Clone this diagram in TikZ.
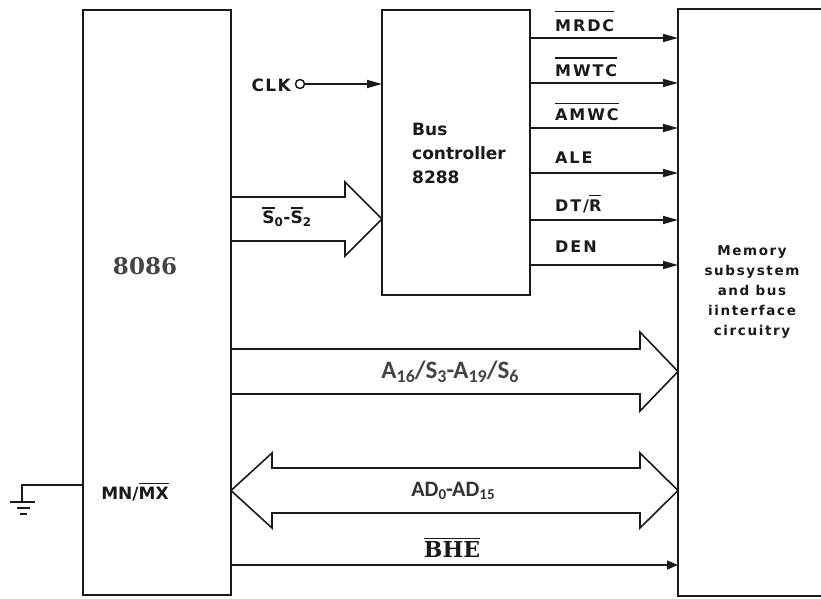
\documentclass[tikz,border=0pt]{standalone}
\usepackage{fontspec}
\setmainfont{DejaVu Sans}
\newfontfamily\myserif{DejaVu Serif}
\newfontfamily\mycalib{Carlito}
\usetikzlibrary{arrows.meta}
\newcommand\ovl[2][1.5]{\setbox0=\hbox{#2}\rlap{\rule[#1\ht0]{\wd0}{1.3pt}}\box0}
\newcommand\lowsub[2][17]{\raisebox{-3.5pt}{\fontsize{#1}{#1}\selectfont #2}}
\definecolor{ink}{HTML}{1A1A1A}
\definecolor{greyink}{HTML}{444444}
\definecolor{darkgrey}{HTML}{333333}
\tikzset{
  box/.style={draw=ink, line width=1.8pt, inner sep=0pt, outer sep=0pt},
  ghost/.style={inner sep=0pt, outer sep=0pt},
  sigtext/.style={font=\bfseries\fontsize{16}{16}\selectfont\addfontfeature{LetterSpace=12}, anchor=west, inner sep=0pt, text=ink},
  sigarrow/.style={draw=ink, line width=1.5pt, -{Triangle[length=15pt,width=8pt]}},
  fat/.style={draw=ink, line width=1.6pt, line join=miter},
}
\begin{document}
\begin{tikzpicture}[x=1pt,y=-1pt]
\useasboundingbox[fill=white] (0,0) rectangle (821,599);
% boxes
\node[box, minimum width=148pt, minimum height=585pt] (cpu) at (157,302.5) {};
\node[box, minimum width=148pt, minimum height=285pt] (ctrl) at (456,152.5) {};
\node[ghost, minimum width=152pt, minimum height=587pt] (mem) at (754,302.5) {};
\draw[draw=ink, line width=1.8pt] (mem.north east) -- (mem.north west) -- (mem.south west) -- (mem.south east);

% box texts
\node[inner sep=0pt, text=greyink, font=\myserif\bfseries\fontsize{23}{23}\selectfont] (t8086) at (145,266) {8086};
\node[inner sep=0pt, text=ink, font=\bfseries\fontsize{17}{17}\selectfont] (tmn) at (135,492) {MN/\ovl[1.3]{MX}};
\node[inner sep=0pt, anchor=west, align=left, text=ink, font=\bfseries\fontsize{17}{24}\selectfont] (tctrl) at (412,153) {Bus\\controller\\8288};
\node[inner sep=0pt, align=center, text=ink, font=\bfseries\fontsize{13.5}{20}\selectfont\addfontfeature{LetterSpace=12}] (tmem) at (752,292) {Memory\\subsystem\\and bus\\iinterface\\circuitry};

% control signals
\foreach \y/\lab/\ly/\nm in {38/{\ovl[1.6]{MRDC}}/21/a, 83/{\ovl[1.5]{MWTC}}/67/b, 128/{\ovl[1.4]{AMWC}}/112/c, 173/ALE/158/d, 220/{DT/\ovl[1.3]{R}}/204/e, 265/DEN/247/f}{
  \draw[sigarrow] (ctrl.east |- 0,\y) -- (mem.west |- 0,\y);
  \node[sigtext] (lab\nm) at (555,\ly) {\lab};
}

% CLK
\node[inner sep=0pt, anchor=east, text=ink, font=\bfseries\fontsize{17}{17}\selectfont\addfontfeature{LetterSpace=8}] (tclk) at (291,85) {CLK};
\node[circle, draw=ink, line width=1.5pt, minimum size=9pt, inner sep=0pt] (clkc) at (300,84) {};
\draw[sigarrow] (clkc.east) -- (ctrl.west |- clkc);

% S0-S2 fat arrow
\coordinate (stip) at (ctrl.west |- 0,219);
\draw[fat] (cpu.east |- 0,197) -- (345,197) -- (345,182) -- (stip) -- (345,256) -- (345,241) -- (cpu.east |- 0,241);
\node[inner sep=0pt, text=ink, font=\bfseries\fontsize{17}{17}\selectfont] (ts) at (287,217) {\ovl[1.2]{S}\textsubscript{0}-\ovl[1.2]{S}\textsubscript{2}};

% A16 fat arrow
\coordinate (atip) at (mem.west |- 0,371.5);
\draw[fat] (cpu.east |- 0,349) -- (640,349) -- (640,332) -- (atip) -- (640,411) -- (640,394) -- (cpu.east |- 0,394);
\node[inner sep=0pt, text=greyink, font=\mycalib\bfseries\fontsize{25}{25}\selectfont] (ta) at (450,372) {A\lowsub[18]{16}/S\lowsub[18]{3}-A\lowsub[18]{19}/S\lowsub[18]{6}};

% AD double fat arrow
\coordinate (dl) at (cpu.east |- 0,490.5);
\coordinate (dr) at (mem.west |- 0,490.5);
\draw[fat] (dl) -- (272,453) -- (272,468) -- (640,468) -- (640,453) -- (dr) -- (640,528) -- (640,513) -- (272,513) -- (272,528) -- cycle;
\node[inner sep=0pt, text=darkgrey, font=\mycalib\bfseries\fontsize{22}{22}\selectfont] (tad) at (453,491) {AD\lowsub[15]{0}-AD\lowsub[15]{15}};

% BHE
\draw[draw=ink, line width=1.5pt, -{Triangle[length=11pt,width=9pt]}] (cpu.east |- 0,565) -- (mem.west |- 0,565);
\node[inner sep=0pt, text=ink, font=\myserif\bfseries\fontsize{22}{22}\selectfont] (tbhe) at (452,548) {\ovl[1.15]{BHE}};

% ground
\coordinate (g) at (22,485);
\draw[draw=ink, line width=1.5pt] (cpu.west |- g) -- (g) -- (22,502);
\draw[draw=ink, line width=1.5pt] (10,502) -- (35,502);
\draw[draw=ink, line width=1.5pt] (17,508) -- (30,508);
\draw[draw=ink, line width=1.5pt] (20,514) -- (27,514);
\end{tikzpicture}
\end{document}
